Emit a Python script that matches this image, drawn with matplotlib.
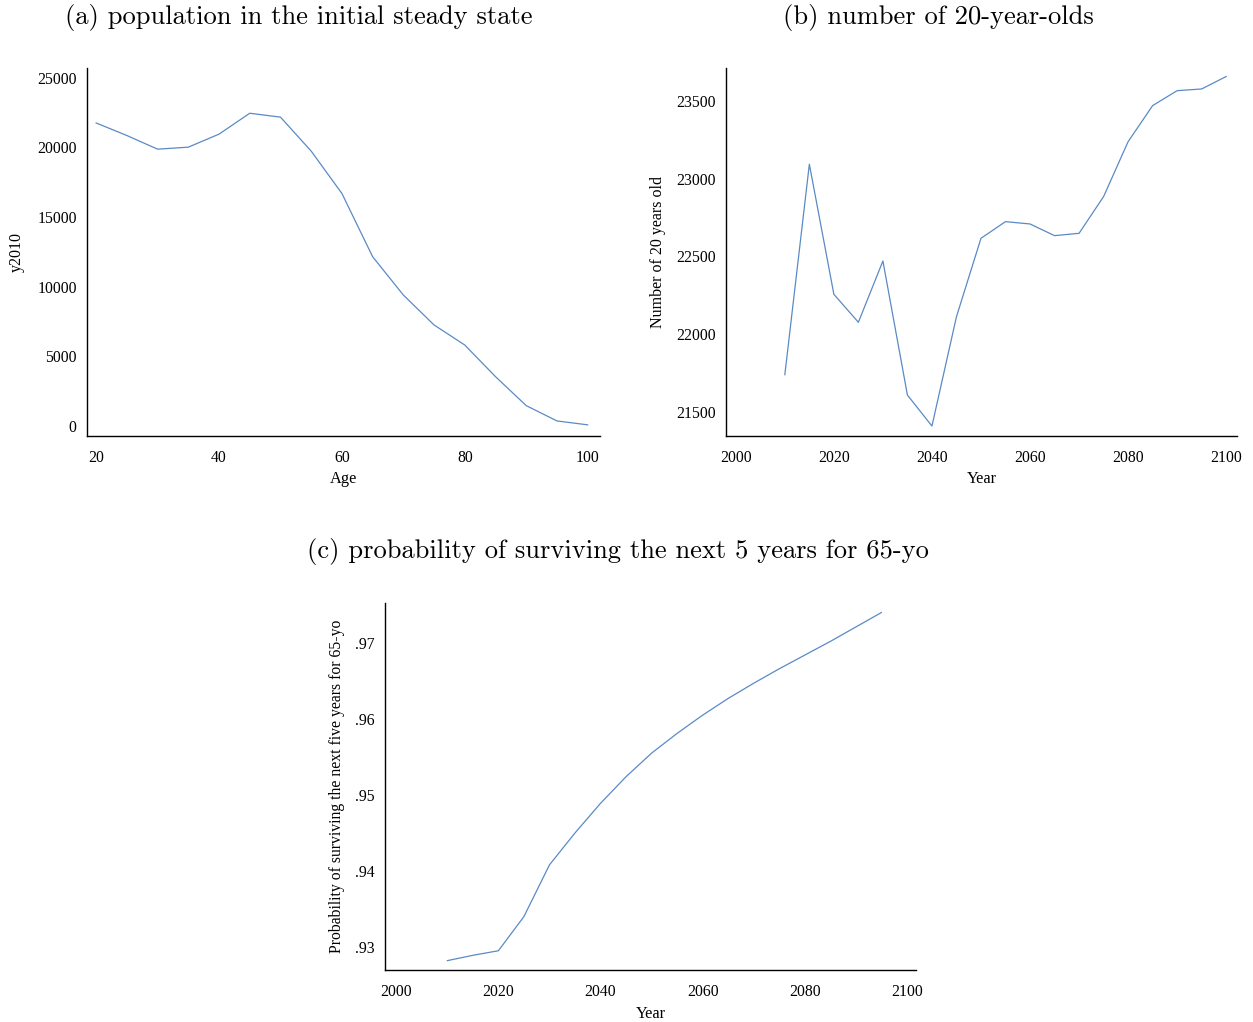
import matplotlib
matplotlib.use("Agg")
import matplotlib.pyplot as plt

# (a) population by age in 2010
ages = [20, 25, 30, 35, 40, 45, 50, 55, 60, 65, 70, 75, 80, 85, 90, 95, 100]
pop_2010 = [21750, 20850, 19870, 20015, 20950, 22450, 22170, 19730, 16690,
            12150, 9400, 7250, 5810, 3540, 1460, 360, 80]

# (b) number of 20-year-olds by year
years_b = [2010, 2015, 2020, 2025, 2030, 2035, 2040, 2045, 2050, 2055,
           2060, 2065, 2070, 2075, 2080, 2085, 2090, 2095, 2100]
n_20yo = [21740, 23093, 22257, 22077, 22471, 21609, 21410, 22113, 22617, 22724,
          22709, 22634, 22649, 22885, 23238, 23470, 23566, 23577, 23657]

# (c) probability of surviving the next five years for 65-year-olds
years_c = [2010, 2015, 2020, 2025, 2030, 2035, 2040, 2045, 2050,
           2055, 2060, 2065, 2070, 2075, 2080, 2085, 2090, 2095]
surv_65 = [.9282, .9289, .9295, .9340, .9408, .9450, .9489, .9524, .9555,
           .9581, .9605, .9627, .9647, .9666, .9684, .9702, .9721, .9740]

LINE = "#5a8ac6"
TICK_FONT = "Liberation Serif"
TITLE_FONT = "cmr10"


def style_axes(ax):
    for s in ["top", "right"]:
        ax.spines[s].set_visible(False)
    for s in ["left", "bottom"]:
        ax.spines[s].set_linewidth(1.0)
        ax.spines[s].set_color("black")
    ax.tick_params(length=0, labelsize=11.3)
    ax.tick_params(axis="x", pad=10)
    ax.tick_params(axis="y", pad=7.4)
    for lab in ax.get_xticklabels() + ax.get_yticklabels():
        lab.set_fontfamily(TICK_FONT)


fig = plt.figure(figsize=(12.53, 10.22), dpi=100)

# panel (a)
ax1 = fig.add_axes([0.0694, 0.5734, 0.4094, 0.3601])
ax1.plot(ages, pop_2010, color=LINE, lw=0.9)
ax1.set_xlim(18.5, 102)
ax1.set_ylim(-720, 25700)
ax1.set_xticks([20, 40, 60, 80, 100])
ax1.set_yticks([0, 5000, 10000, 15000, 20000, 25000])
ax1.set_xlabel("Age", fontfamily=TICK_FONT, fontsize=11.8)
ax1.set_ylabel("y2010", fontfamily=TICK_FONT, fontsize=11.5)
style_axes(ax1)
ax1.yaxis.set_label_coords(-0.122, 0.5)
ax1.xaxis.set_label_coords(0.5, -0.095)

# panel (b)
ax2 = fig.add_axes([0.5794, 0.5734, 0.4078, 0.3601])
ax2.plot(years_b, n_20yo, color=LINE, lw=0.9)
ax2.set_xlim(1998, 2102.2)
ax2.set_ylim(21346, 23712)
ax2.set_xticks([2000, 2020, 2040, 2060, 2080, 2100])
ax2.set_yticks([21500, 22000, 22500, 23000, 23500])
ax2.set_xlabel("Year", fontfamily=TICK_FONT, fontsize=11.8)
ax2.set_ylabel("Number of 20 years old", fontfamily=TICK_FONT, fontsize=11.5)
style_axes(ax2)
ax2.yaxis.set_label_coords(-0.118, 0.5)
ax2.xaxis.set_label_coords(0.5, -0.095)

# panel (c)
ax3 = fig.add_axes([0.3073, 0.0509, 0.4238, 0.3591])
ax3.plot(years_c, surv_65, color=LINE, lw=0.9)
ax3.set_xlim(1997.8, 2101.8)
ax3.set_ylim(.92697, .97526)
ax3.set_xticks([2000, 2020, 2040, 2060, 2080, 2100])
ax3.set_yticks([.93, .94, .95, .96, .97])
ax3.set_yticklabels([".93", ".94", ".95", ".96", ".97"])
ax3.set_xlabel("Year", fontfamily=TICK_FONT, fontsize=11.8)
ax3.set_ylabel("Probability of surviving the next five years for 65-yo",
               fontfamily=TICK_FONT, fontsize=11.3)
style_axes(ax3)
ax3.yaxis.set_label_coords(-0.075, 0.5)
ax3.xaxis.set_label_coords(0.5, -0.097)

# panel titles
fig.text(0.2382, 0.9824, "(a) population in the initial steady state",
         fontfamily=TITLE_FONT, fontsize=19.1, ha="center", va="center")
fig.text(0.7486, 0.9824, "(b) number of 20-year-olds",
         fontfamily=TITLE_FONT, fontsize=19.1, ha="center", va="center")
fig.text(0.4932, 0.4599, "(c) probability of surviving the next 5 years for 65-yo",
         fontfamily=TITLE_FONT, fontsize=19.1, ha="center", va="center")

fig.savefig("out.png", dpi=100)
